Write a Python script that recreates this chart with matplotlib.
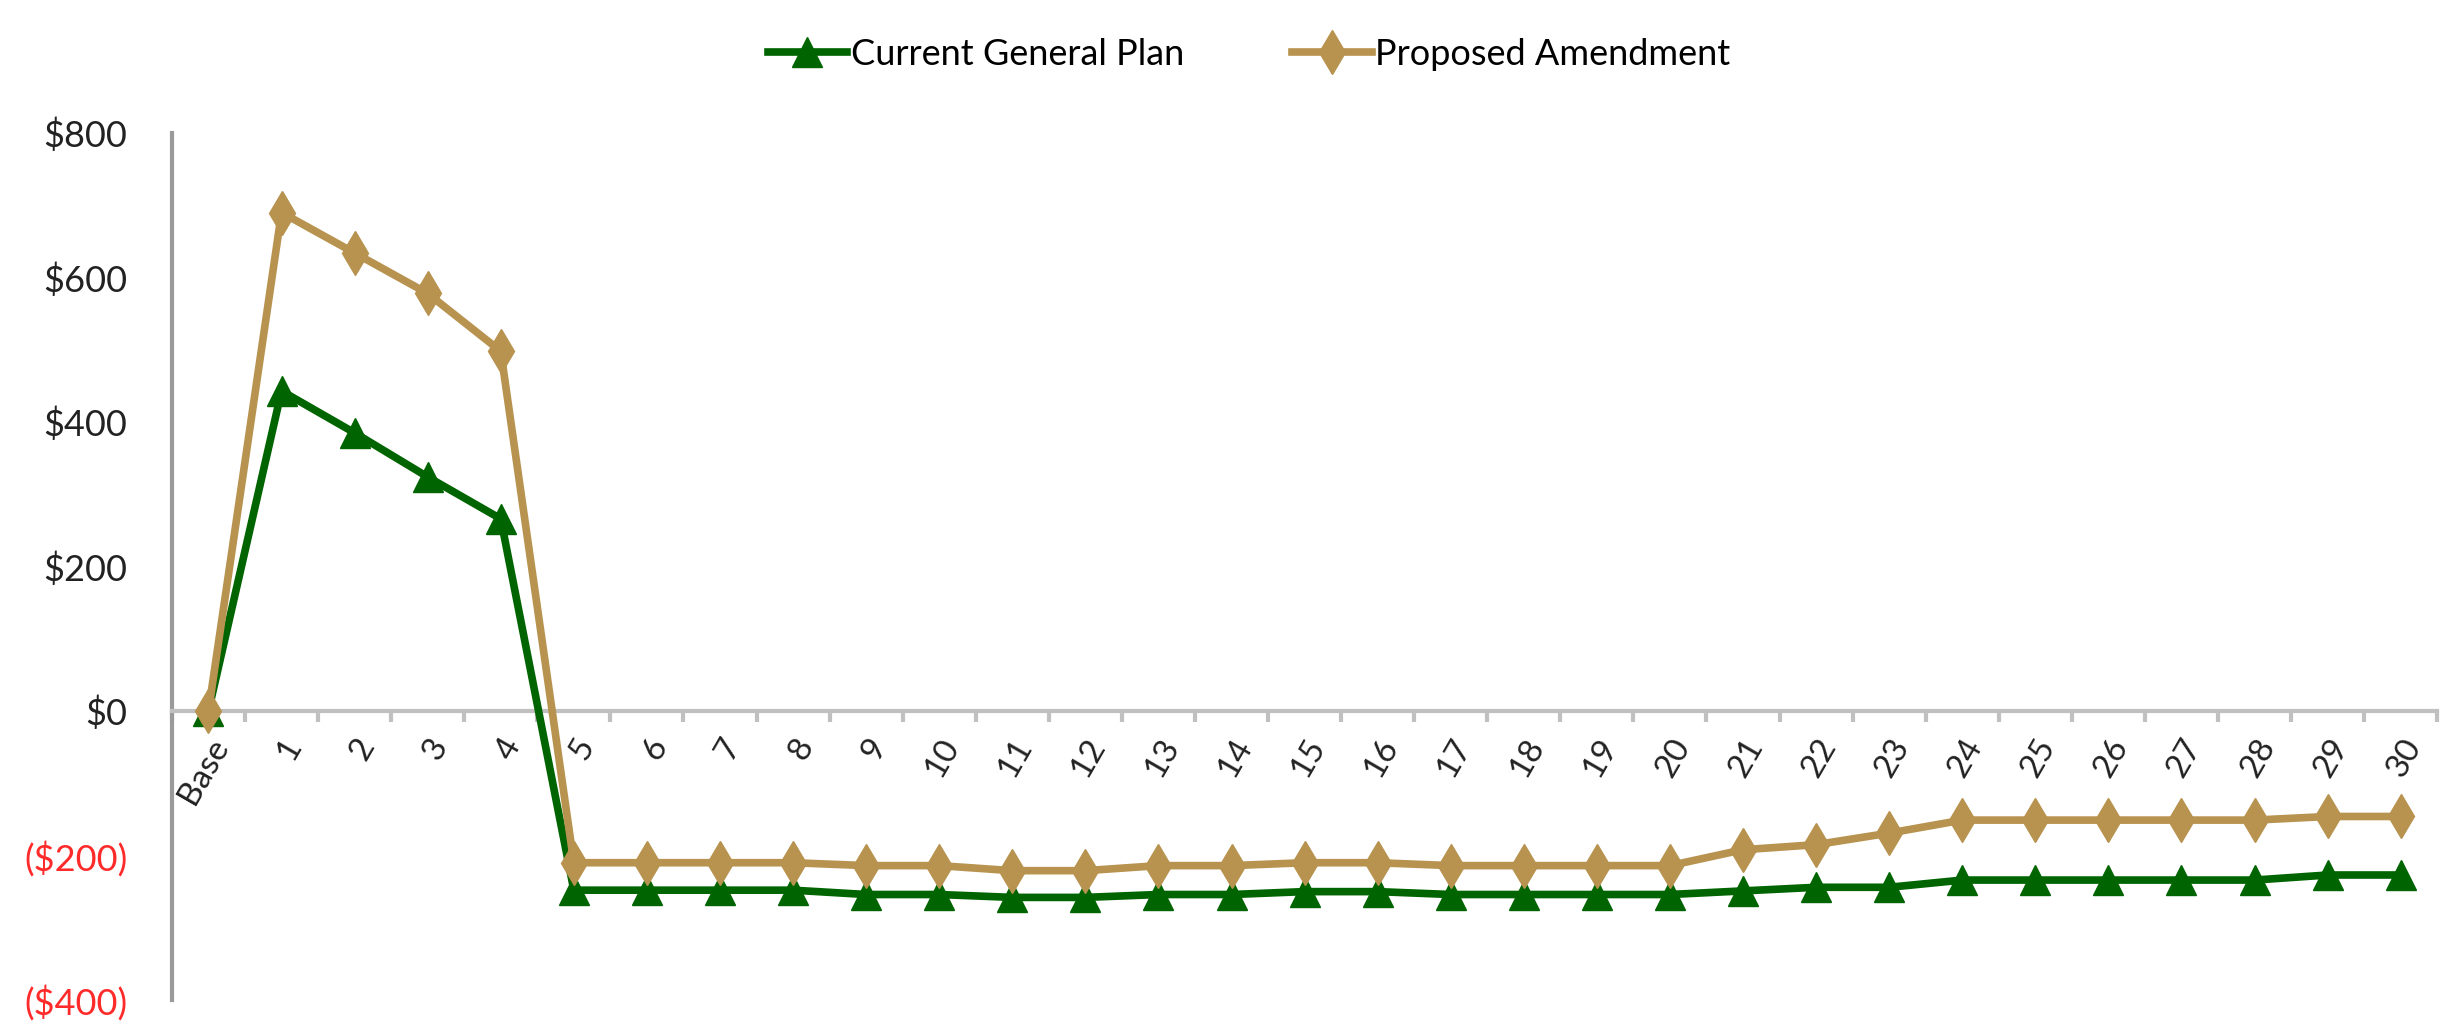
import matplotlib.pyplot as plt
from matplotlib.ticker import FixedLocator, FuncFormatter

labels = ['Base', '1', '2', '3', '4', '5', '6', '7', '8', '9', '10',
          '11', '12', '13', '14', '15', '16', '17', '18', '19', '20',
          '21', '22', '23', '24', '25', '26', '27', '28', '29', '30']
current = [0, 443, 385, 324, 266, -248, -248, -248, -248, -254, -254,
           -258, -258, -254, -254, -250, -250, -254, -254, -254, -254,
           -249, -244, -244, -234, -234, -234, -234, -234, -227, -227]
proposed = [0, 690, 634, 578, 498, -210, -210, -210, -210, -214, -214,
            -221, -221, -214, -214, -210, -210, -214, -214, -214, -214,
            -192, -185, -169, -151, -151, -151, -151, -151, -146, -146]
yticks = [-400, -200, 0, 200, 400, 600, 800]

plt.rcParams['font.family'] = ['Lato', 'DejaVu Sans']

fig = plt.figure(figsize=(24.49, 10.25), dpi=100)
ax = fig.add_axes([0.0702, 0.0244, 0.925, 0.8458])

x = list(range(len(labels)))
ax.plot(x, current, color='#006400', lw=5.5, marker='^', ms=21,
        label='Current General Plan', zorder=3)
ax.plot(x, proposed, color='#B8934F', lw=5.5, marker='d', ms=22,
        label='Proposed Amendment', zorder=4)

ax.set_xlim(-0.5, len(labels) - 0.5)
ax.set_ylim(-400, 800)

for s in ['top', 'right']:
    ax.spines[s].set_visible(False)
ax.spines['bottom'].set_position(('data', 0))
ax.spines['bottom'].set_color('#c0c0c0')
ax.spines['bottom'].set_linewidth(3)
ax.spines['left'].set_color('#9a9a9a')
ax.spines['left'].set_linewidth(3)

ax.set_xticks(x)
ax.set_xticklabels(labels, rotation=60, ha='right', va='top',
                   rotation_mode='anchor', fontsize=24, color='#222222')
ax.xaxis.set_minor_locator(FixedLocator([i - 0.5 for i in range(len(labels) + 1)]))
ax.tick_params(axis='x', which='major', length=0, pad=16)
ax.tick_params(axis='x', which='minor', length=8, width=3, color='#c0c0c0')

ax.set_yticks(yticks)
ax.yaxis.set_major_formatter(FuncFormatter(
    lambda v, p: f'${v:,.0f}' if v >= 0 else f'(${-v:,.0f})'))
ax.tick_params(axis='y', length=0, pad=32, labelsize=26)
for t, v in zip(ax.get_yticklabels(), yticks):
    t.set_color('#FF2A2A' if v < 0 else '#222222')

fig.legend(loc='upper center', bbox_to_anchor=(0.51, 0.995), ncol=2,
           frameon=False, fontsize=26, handlelength=2.2, columnspacing=3,
           handletextpad=0.1)

fig.savefig('out.png', dpi=100)
